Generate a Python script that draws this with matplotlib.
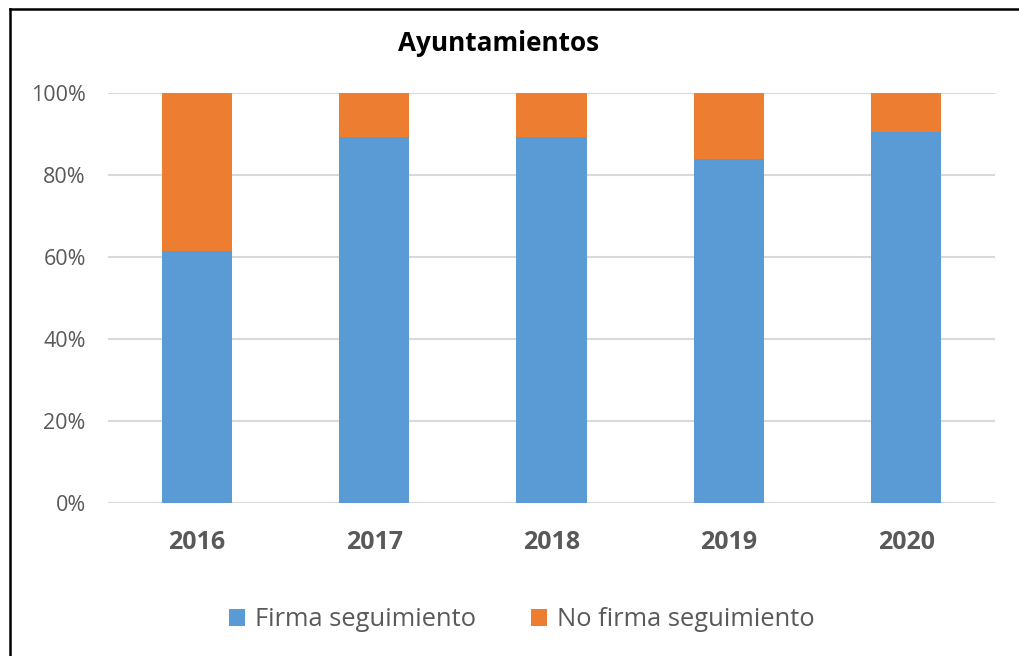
import matplotlib
matplotlib.use("Agg")
import matplotlib.pyplot as plt
from matplotlib.lines import Line2D
from matplotlib.ticker import PercentFormatter

# Datos
years = ["2016", "2017", "2018", "2019", "2020"]
firma = [61.5, 89.3, 89.3, 83.9, 90.4]
no_firma = [100 - v for v in firma]

blue = "#5B9BD5"
orange = "#ED7D31"
grey = "#595959"

plt.rcParams["font.family"] = ["Open Sans", "DejaVu Sans"]

fig = plt.figure(figsize=(10.19, 6.56), dpi=100)
ax = fig.add_axes([0.106, 0.2337, 0.8705, 0.6245])

x = range(len(years))
ax.bar(x, firma, width=0.395, color=blue, label="Firma seguimiento", zorder=3)
ax.bar(x, no_firma, width=0.395, bottom=firma, color=orange,
       label="No firma seguimiento", zorder=3)

ax.set_xlim(-0.5, len(years) - 0.5)
ax.set_ylim(0, 100)
ax.set_yticks([0, 20, 40, 60, 80, 100])
ax.yaxis.set_major_formatter(PercentFormatter(decimals=0))
ax.set_xticks(list(x))
ax.set_xticklabels(years, fontweight="bold")
ax.tick_params(axis="y", length=0, pad=16, labelsize=15.5, labelcolor=grey)
ax.tick_params(axis="x", length=0, pad=20, labelsize=18, labelcolor=grey)
ax.grid(axis="y", color="#D9D9D9", linewidth=1.5, zorder=0)
for s in ax.spines.values():
    s.set_visible(False)

fig.text(0.489, 0.933, "Ayuntamientos", ha="center", va="center",
         fontsize=18.8, fontweight="bold", color="black")

fig.legend(loc="center", bbox_to_anchor=(0.512, 0.055), ncol=2,
           frameon=False, fontsize=18.4, handlelength=0.62, handleheight=0.62,
           handletextpad=0.4, columnspacing=2.15, labelcolor=grey)

# borde del grafico (solo arriba e izquierda visibles)
fig.add_artist(Line2D([9.5 / 1019, 1.0], [1 - 8.5 / 656, 1 - 8.5 / 656],
                      transform=fig.transFigure, color="black", linewidth=1.8))
fig.add_artist(Line2D([9.5 / 1019, 9.5 / 1019], [0, 1 - 8.5 / 656],
                      transform=fig.transFigure, color="black", linewidth=1.8))

fig.savefig("out.png", dpi=100)
